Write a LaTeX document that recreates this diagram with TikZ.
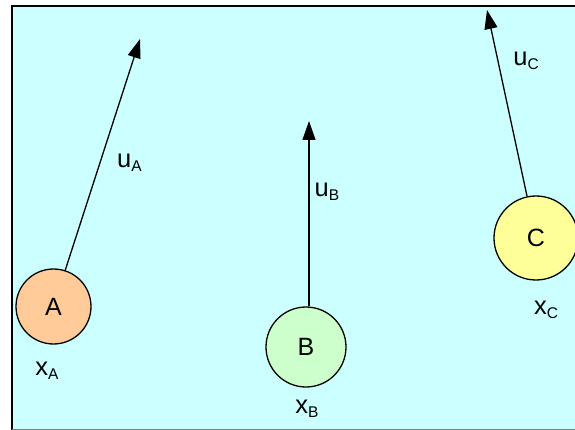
\documentclass[tikz,border=0pt]{standalone}
\usepackage{fontspec}
\setmainfont{Liberation Sans}
\usetikzlibrary{arrows.meta}
\definecolor{bgcyan}{HTML}{CCFFFF}
\definecolor{corange}{HTML}{FFCC99}
\definecolor{cgreen}{HTML}{CCFFCC}
\definecolor{cyellow}{HTML}{FFFF99}
\newcommand{\biglbl}[2]{{\fontsize{25.5}{25.5}\selectfont #1}{\fontsize{15.5}{15.5}\selectfont\raisebox{-4pt}{#2}}}
\tikzset{
  ball/.style={circle, draw=black, line width=1.3pt, inner sep=0pt, font=\fontsize{25}{25}\selectfont},
  vel/.style={line width=1.3pt, -{Triangle[length=19pt, width=13pt]}},
  lbl/.style={inner sep=0pt, anchor=center}
}
\begin{document}
\begin{tikzpicture}[x=1pt, y=-1pt]
\useasboundingbox (0,0) rectangle (575,430);
\clip (0,0) rectangle (575,430);
\draw[fill=bgcyan, line width=2.5pt] (12,6) rectangle (585,440);
\draw[gray, line width=1pt] (12,429) -- (575,429);
\node[ball, fill=corange, minimum size=75pt] (A) at (53.5,306.5) {A};
\node[ball, fill=cgreen, minimum size=80pt] (B) at (306,347) {B};
\node[ball, fill=cyellow, minimum size=84pt] (C) at (536,238) {C};
\coordinate (tA) at (140,39);
\coordinate (tB) at (309,121);
\coordinate (tC) at (487,10);
\draw[vel] (A) -- (tA);
\draw[vel] (B.north -| tB) -- (tB);
\draw[vel] (C) -- (tC);
\node[lbl] (uA) at (129.5,163) {\biglbl{u}{A}};
\node[lbl] (uB) at (327,192) {\biglbl{u}{B}};
\node[lbl] (uC) at (526,61) {\biglbl{u}{C}};
\node[lbl] (xA) at (47,371) {\biglbl{x}{A}};
\node[lbl] (xB) at (307,409) {\biglbl{x}{B}};
\node[lbl] (xC) at (546,310) {\biglbl{x}{C}};
\end{tikzpicture}
\end{document}
